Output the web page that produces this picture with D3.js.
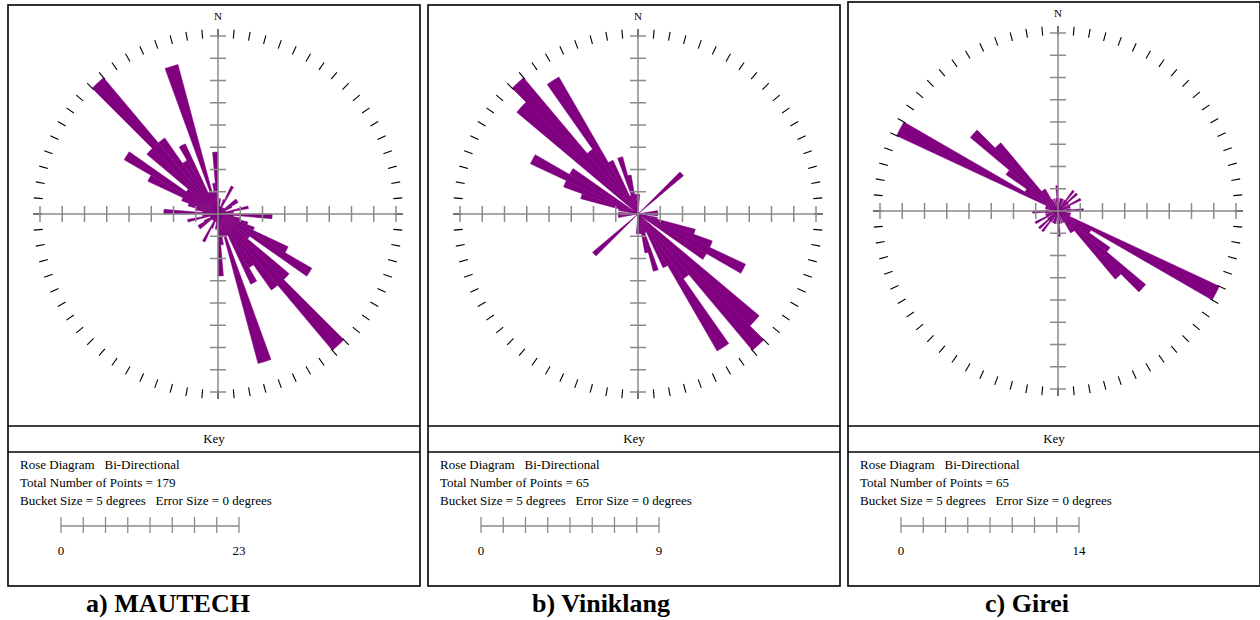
<!DOCTYPE html>
<html>
<head>
<meta charset="utf-8">
<script src="https://cdn.jsdelivr.net/npm/d3@7"></script>
<style>
  body { margin: 0; background: #fff; }
  svg { display: block; }
  text { font-family: "Liberation Serif", "Times New Roman", serif; }
</style>
</head>
<body>
<div class="chart"></div>
<script>
// bucket start azimuths (degrees), bi-directional so each bucket is mirrored at +180
const bucketStarts = [0, 5, 10, 15, 20, 25, 30, 35, 40, 45, 50, 55, 60, 65, 70, 75, 80, 85,
                      90, 95, 100, 105, 110, 115, 120, 125, 130, 135, 140, 145, 150, 155, 160, 165, 170, 175];

const mautechCounts   = [1, 2, 1, 1, 2, 4, 1, 1, 1, 1, 3, 3, 2, 1, 1, 4, 2, 1,
                         7, 2, 3, 4, 5, 10, 14, 5, 12, 23, 12, 8, 10, 3, 20, 3, 4, 8];
const viniklangCounts = [1, 0, 0, 0, 0, 0, 0, 0, 0, 3, 0, 0, 0, 0, 0, 0, 1, 1,
                         1, 0, 1, 3, 4, 6, 4, 0, 8, 9, 4, 8, 3, 1, 3, 2, 1, 1];
const gireiCounts     = [1, 0, 1, 1, 1, 0, 1, 2, 1, 2, 1, 0, 2, 1, 1, 0, 1, 2,
                         1, 0, 1, 1, 1, 14, 3, 5, 9, 7, 2, 2, 1, 0, 1, 0, 1, 2];

const panelNames  = ['a) MAUTECH', 'b) Viniklang', 'c) Girei'];
const scaleMaxima = [23, 9, 14];
const totalPoints = [179, 65, 65];
const seriesList  = [mautechCounts, viniklangCounts, gireiCounts];

const width = 1260, height = 620;
const panelLeft = [8, 428, 848];
const panelTop = [5, 5, 2];
const titleX = [168, 601, 1027];
const boxW = 412, boxBottom = 586;
const R = 178;
const purple = '#800080';
const axisGrey = '#8a8a8a';

const svg = d3.select('.chart')
  .append('svg')
    .attr('width', width)
    .attr('height', height);

seriesList.forEach((counts, p) => {
  const x0 = panelLeft[p];
  const top = panelTop[p];
  const cx = x0 + 210;
  const cy = top + 209;
  const g = svg.append('g');

  // frame
  g.append('rect')
    .attr('x', x0).attr('y', top)
    .attr('width', boxW).attr('height', boxBottom - top)
    .attr('fill', 'none').attr('stroke', '#000').attr('stroke-width', 1.6);
  g.append('line')
    .attr('x1', x0).attr('x2', x0 + boxW).attr('y1', 426).attr('y2', 426)
    .attr('stroke', '#000').attr('stroke-width', 1.6);
  g.append('line')
    .attr('x1', x0).attr('x2', x0 + boxW).attr('y1', 452).attr('y2', 452)
    .attr('stroke', '#000').attr('stroke-width', 1.6);

  const r = d3.scaleLinear()
    .domain([0, scaleMaxima[p]])
    .range([0, R]);

  const rose = g.append('g').attr('transform', `translate(${cx},${cy})`);

  // wedges, each bucket drawn twice (bi-directional)
  const arc = d3.arc().innerRadius(0);
  const wedges = [];
  bucketStarts.forEach((a, i) => {
    if (counts[i] > 0) {
      wedges.push({a: a, c: counts[i]});
      wedges.push({a: a + 180, c: counts[i]});
    }
  });
  rose.selectAll('path.wedge')
    .data(wedges)
    .enter()
    .append('path')
      .attr('class', 'wedge')
      .attr('d', d => arc({
        outerRadius: r(d.c),
        startAngle: d.a * Math.PI / 180,
        endAngle: (d.a + 5) * Math.PI / 180
      }))
      .attr('fill', purple)
      .attr('stroke', purple)
      .attr('stroke-width', 0.5)
      .attr('stroke-linejoin', 'miter');

  // outer compass dashes every 5 degrees
  rose.selectAll('line.dash')
    .data(d3.range(0, 360, 5))
    .enter()
    .append('line')
      .attr('x1', d => 176 * Math.sin(d * Math.PI / 180))
      .attr('y1', d => -176 * Math.cos(d * Math.PI / 180))
      .attr('x2', d => 185 * Math.sin(d * Math.PI / 180))
      .attr('y2', d => -185 * Math.cos(d * Math.PI / 180))
      .attr('stroke', '#000')
      .attr('stroke-width', 1.1);

  // cross axes with tick marks
  rose.append('line')
    .attr('x1', -R).attr('x2', R).attr('y1', 0).attr('y2', 0)
    .attr('stroke', axisGrey).attr('stroke-width', 1.5);
  rose.append('line')
    .attr('x1', 0).attr('x2', 0).attr('y1', -R).attr('y2', R)
    .attr('stroke', axisGrey).attr('stroke-width', 1.5);

  const tickVals = d3.range(1, 9).map(i => i * scaleMaxima[p] / 8);
  [-1, 1].forEach(s => {
    rose.selectAll(null)
      .data(tickVals)
      .enter()
      .append('line')
        .attr('x1', d => s * r(d)).attr('x2', d => s * r(d))
        .attr('y1', -8).attr('y2', 8)
        .attr('stroke', axisGrey).attr('stroke-width', 1.5);
    rose.selectAll(null)
      .data(tickVals)
      .enter()
      .append('line')
        .attr('y1', d => s * r(d)).attr('y2', d => s * r(d))
        .attr('x1', -8).attr('x2', 8)
        .attr('stroke', axisGrey).attr('stroke-width', 1.5);
  });

  g.append('text')
    .attr('x', cx).attr('y', top + 15)
    .attr('text-anchor', 'middle')
    .attr('font-size', '11px')
    .text('N');

  // key
  g.append('text')
    .attr('x', x0 + boxW / 2).attr('y', 443)
    .attr('text-anchor', 'middle')
    .attr('font-size', '13px')
    .text('Key');

  const keyLines = [
    'Rose Diagram\u00a0\u00a0 Bi-Directional',
    `Total Number of Points = ${totalPoints[p]}`,
    'Bucket Size = 5 degrees\u00a0\u00a0 Error Size = 0 degrees'
  ];
  g.selectAll('text.keyline')
    .data(keyLines)
    .enter()
    .append('text')
      .attr('class', 'keyline')
      .attr('x', x0 + 12)
      .attr('y', (d, i) => 469 + i * 18)
      .attr('font-size', '13px')
      .text(d => d);

  // scale bar in key, same radial scale
  const kx = x0 + 53;
  const ky = 526;
  g.append('line')
    .attr('x1', kx).attr('x2', kx + r(scaleMaxima[p]))
    .attr('y1', ky).attr('y2', ky)
    .attr('stroke', axisGrey).attr('stroke-width', 1.3);
  g.selectAll(null)
    .data(d3.range(0, 9).map(i => i * scaleMaxima[p] / 8))
    .enter()
    .append('line')
      .attr('x1', d => kx + r(d)).attr('x2', d => kx + r(d))
      .attr('y1', ky - 9).attr('y2', ky + 7)
      .attr('stroke', axisGrey).attr('stroke-width', 1.3);
  g.selectAll(null)
    .data([0, scaleMaxima[p]])
    .enter()
    .append('text')
      .attr('x', d => kx + r(d))
      .attr('y', 555)
      .attr('text-anchor', 'middle')
      .attr('font-size', '13px')
      .text(d => d);

  svg.append('text')
    .attr('x', titleX[p]).attr('y', 612)
    .attr('text-anchor', 'middle')
    .attr('font-size', '26px')
    .attr('font-weight', 'bold')
    .text(panelNames[p]);
});
</script>
</body>
</html>
